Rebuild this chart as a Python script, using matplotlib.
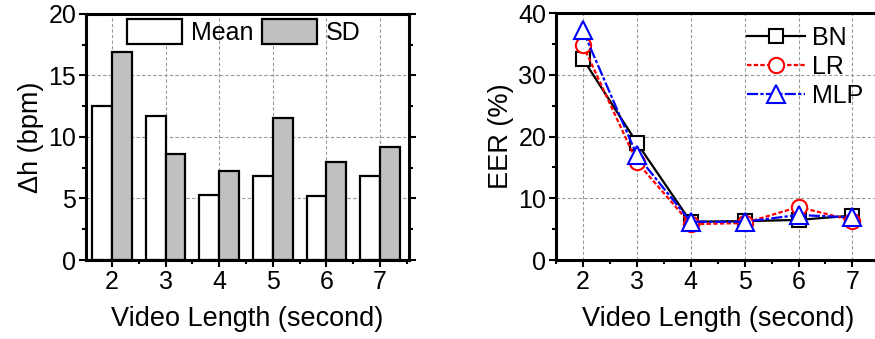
import numpy as np
import matplotlib.pyplot as plt
from matplotlib.ticker import MultipleLocator

plt.rcParams['font.family'] = ['Liberation Sans', 'DejaVu Sans']

lengths = [2, 3, 4, 5, 6, 7]
mean_dh = [12.5, 11.7, 5.3, 6.8, 5.2, 6.8]
sd_dh = [16.9, 8.6, 7.2, 11.5, 8.0, 9.2]

eer_bn = [32.6, 19.0, 6.2, 6.3, 6.5, 7.2]
eer_lr = [34.8, 15.9, 5.8, 6.0, 8.6, 6.4]
eer_mlp = [37.2, 17.0, 6.2, 6.2, 7.3, 6.9]

fig = plt.figure(figsize=(8.75, 3.39), dpi=100)
ax1 = fig.add_axes([0.0983, 0.233, 0.369, 0.726])
ax2 = fig.add_axes([0.6354, 0.233, 0.3696, 0.728])

grid_kw = dict(color='#9a9a9a', linestyle=(0, (3, 2)), linewidth=0.8)


def style_axes(ax):
    for s in ax.spines.values():
        s.set_linewidth(2.2)
    ax.tick_params(which='both', direction='out', labelsize=18, width=1.5,
                   right=True, top=False, pad=2)
    ax.tick_params(which='major', length=5)
    ax.tick_params(which='minor', length=3)
    ax.grid(True, **grid_kw)
    ax.set_axisbelow(True)


# left: bar chart
x = np.array(lengths)
w = 0.37
ax1.bar(x - w / 2, mean_dh, w, color='white', edgecolor='black', linewidth=1.6, label='Mean')
ax1.bar(x + w / 2, sd_dh, w, color='#c0c0c0', edgecolor='black', linewidth=1.6, label='SD')
ax1.set_xlim(1.515, 7.54)
ax1.set_ylim(0, 20)
ax1.set_xticks(lengths)
ax1.yaxis.set_major_locator(MultipleLocator(5))
ax1.yaxis.set_minor_locator(MultipleLocator(2.5))
ax1.xaxis.set_minor_locator(MultipleLocator(0.5))
style_axes(ax1)
ax1.set_xlabel('Video Length (second)', fontsize=19.5, labelpad=9)
ax1.set_ylabel('Δh (bpm)', fontsize=19.5, labelpad=3)
ax1.legend(ncol=2, loc='upper center', bbox_to_anchor=(0.49, 1.0), frameon=False,
           fontsize=18, handlelength=2.2, handleheight=1.15, handletextpad=0.35,
           columnspacing=0.35, borderaxespad=0.0, borderpad=0.2)

# right: EER lines
ax2.plot(lengths, eer_bn, color='black', linestyle='-', linewidth=1.6, marker='s',
         markersize=9.5, markerfacecolor='white', markeredgewidth=1.5, label='BN', zorder=3)
ax2.plot(lengths, eer_lr, color='red', linestyle=(0, (2, 1)), linewidth=1.6, marker='o',
         markersize=11, markerfacecolor='white', markeredgewidth=1.5, label='LR', zorder=4)
ax2.plot(lengths, eer_mlp, color='blue', linestyle=(0, (5, 1, 1.5, 1)), linewidth=1.6, marker='^',
         markersize=12.5, markerfacecolor='white', markeredgewidth=1.5, label='MLP', zorder=5)
ax2.set_xlim(1.5, 7.5)
ax2.set_ylim(0, 40)
ax2.set_xticks(lengths)
ax2.yaxis.set_major_locator(MultipleLocator(10))
ax2.yaxis.set_minor_locator(MultipleLocator(5))
ax2.xaxis.set_minor_locator(MultipleLocator(0.5))
style_axes(ax2)
ax2.set_xlabel('Video Length (second)', fontsize=19.5, labelpad=9)
ax2.set_ylabel('EER (%)', fontsize=19.5, labelpad=3)
ax2.legend(loc='upper left', bbox_to_anchor=(0.56, 0.99), frameon=False, fontsize=18,
           handlelength=2.3, handletextpad=0.3, labelspacing=0.2, borderaxespad=0.0)

fig.savefig('out.png', dpi=100)
